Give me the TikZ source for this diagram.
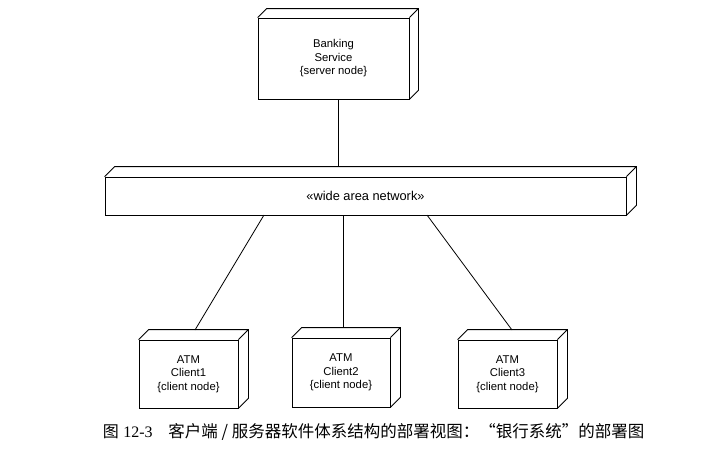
\documentclass[tikz,border=0pt]{standalone}
\usepackage{fontspec}
\setmainfont{Liberation Sans}
\newfontfamily\cjk{Noto Sans CJK SC}
\newfontfamily\capserif{Liberation Serif}
\usetikzlibrary{calc}
\begin{document}
\begin{tikzpicture}[x=1pt,y=-1pt,
  line width=0.8pt,
  dnode/.style={draw, rectangle, inner sep=0pt, align=center,
    font=\fontsize{11.3pt}{13.5pt}\selectfont},
  link/.style={draw, line width=0.8pt}]
\useasboundingbox (0,0) rectangle (707,453);
% nodes (front faces)
\node[dnode, minimum width=151pt, minimum height=81pt] (srv) at (333.5,58.5)
  {Banking\\Service\\\{server node\}};
\node[dnode, minimum width=521pt, minimum height=38pt,
  font=\fontsize{12.8pt}{14pt}\selectfont] (wan) at (365.5,196) {«wide area network»};
\node[dnode, minimum width=99pt, minimum height=68pt] (c1) at (188.5,374)
  {\raisebox{-4pt}{\parbox{80pt}{\centering ATM\\Client1\\\{client node\}}}};
\node[dnode, minimum width=98pt, minimum height=69pt] (c2) at (341,372.5)
  {\raisebox{-4pt}{\parbox{80pt}{\centering ATM\\Client2\\\{client node\}}}};
\node[dnode, minimum width=99pt, minimum height=68pt] (c3) at (507.5,374)
  {\raisebox{-4pt}{\parbox{80pt}{\centering ATM\\Client3\\\{client node\}}}};
% 3D faces
\foreach \n/\d in {srv/9, wan/10, c1/10, c2/10, c3/10}{
  \draw (\n.north west) -- ++(\d,-\d) -- ($(\n.north east)+(\d,-\d)$)
        -- ($(\n.south east)+(\d,-\d)$) -- (\n.south east)
        (\n.north east) -- ++(\d,-\d);
}
% connector end points
\coordinate (srvb) at ($(srv.south)+(4.5,0)$);
\coordinate (wantop) at (srvb |- 0,167);
\coordinate (w1) at (264,215);
\coordinate (w2) at (343,215);
\coordinate (w3) at (427,215);
\coordinate (c1t) at (195,330);
\coordinate (c2t) at (343,328);
\coordinate (c3t) at (512,330);
\draw[link] (srvb) -- (wantop);
\draw[link] (w1) -- (c1t);
\draw[link] (w2) -- (c2t);
\draw[link] (w3) -- (c3t);
% caption
\node[anchor=east, inner sep=0pt, font=\fontsize{16pt}{18pt}\selectfont] (fig) at (153,432)
  {{\cjk 图} \capserif 12-3};
\node[anchor=west, inner sep=0pt, font=\fontsize{16.5pt}{18pt}\cjk] (cap) at (168,432)
  {客户端 / 服务器软件体系结构的部署视图：“银行系统”的部署图};
\end{tikzpicture}
\end{document}
